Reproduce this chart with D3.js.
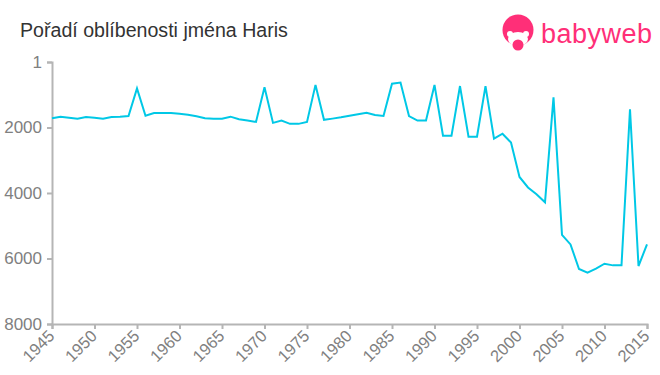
<!doctype html>
<html>
    <head>
        <meta charset="utf-8">
        <script src="https://d3js.org/d3.v7.min.js"></script>
        <style>
            body,
            html {
                margin: 0;
                padding: 0;
                overflow: hidden;
                background: #fff;
            }
            text {
                font-family: "Liberation Sans", Arial, sans-serif;
            }
        </style>
    </head>
    <body>
        <script>
            const years = d3.range(1945, 2016);
            const ranks = [
                1720, 1670, 1700, 1730, 1680, 1700, 1730, 1680, 1670, 1650,
                805, 1640, 1560, 1560, 1560, 1580, 1610, 1660, 1720, 1730,
                1730, 1670, 1750, 1790, 1830, 775, 1860, 1790, 1890, 1890,
                1830, 700, 1765, 1730, 1690, 1640, 1595, 1550, 1620, 1650,
                663, 630, 1650, 1790, 1790, 700, 2250, 2250, 735, 2280,
                2280, 735, 2340, 2190, 2460, 3510, 3830, 4040, 4285, 1080,
                5280, 5570, 6320, 6430, 6310, 6160, 6210, 6210, 1445, 6230,
                5570,
            ];
            const yTicks = [1, 2000, 4000, 6000, 8000];
            const xTicks = d3.range(1945, 2016, 5);

            const width = 660;
            const height = 375;
            const svg = d3
                .create("svg")
                .attr("width", width)
                .attr("height", height)
                .attr("viewBox", [0, 0, width, height]);

            const x = d3.scaleLinear().domain([1945, 2015]).range([52, 647]);
            const y = d3.scaleLinear().domain([1, 8000]).range([62, 324]);

            // title
            svg.append("text")
                .attr("x", 20)
                .attr("y", 37)
                .attr("fill", "#333")
                .attr("font-size", 19.6)
                .text("Pořadí oblíbenosti jména Haris");

            // logo
            const logo = svg.append("g").attr("fill", "#ff2f78");
            logo.append("circle").attr("cx", 518).attr("cy", 30).attr("r", 15.5);
            logo.append("ellipse")
                .attr("cx", 518).attr("cy", 39).attr("rx", 10).attr("ry", 7)
                .attr("fill", "#fff");
            logo.append("circle").attr("cx", 510).attr("cy", 34).attr("r", 3).attr("fill", "#fff");
            logo.append("circle").attr("cx", 526).attr("cy", 34).attr("r", 3).attr("fill", "#fff");
            logo.append("circle").attr("cx", 518).attr("cy", 45).attr("r", 5.5);
            logo.append("text")
                .attr("x", 541)
                .attr("y", 43)
                .attr("font-size", 27)
                .attr("textLength", 111)
                .text("babyweb");

            // y axis
            const yAxis = svg
                .append("g")
                .attr("transform", "translate(52,0)")
                .call(d3.axisLeft(y).tickValues(yTicks).tickSize(5).tickPadding(5).tickFormat(d3.format("d")));
            yAxis.select(".domain").attr("stroke", "#b5b5b5").attr("stroke-width", 2);
            yAxis.selectAll(".tick line").attr("stroke", "#b5b5b5").attr("stroke-width", 2);
            yAxis.selectAll(".tick text")
                .attr("fill", "#808080")
                .attr("font-size", 17)
                .attr("font-family", "Liberation Sans, Arial, sans-serif");

            // x axis
            const xAxis = svg
                .append("g")
                .attr("transform", "translate(0,324)")
                .call(d3.axisBottom(x).tickValues(xTicks).tickSize(5).tickFormat(d3.format("d")));
            xAxis.select(".domain").attr("stroke", "#b5b5b5").attr("stroke-width", 2);
            xAxis.selectAll(".tick line").attr("stroke", "#b5b5b5").attr("stroke-width", 2);
            xAxis.selectAll(".tick text")
                .attr("fill", "#808080")
                .attr("font-size", 16.5)
                .attr("font-family", "Liberation Sans, Arial, sans-serif")
                .attr("text-anchor", "end")
                .attr("dy", null)
                .attr("y", 0)
                .attr("transform", "translate(3,13) rotate(-45)");

            // line
            const line = d3
                .line()
                .x((d, i) => x(years[i]))
                .y((d) => y(d));
            svg.append("path")
                .datum(ranks)
                .attr("fill", "none")
                .attr("stroke", "#00c8e6")
                .attr("stroke-width", 2)
                .attr("stroke-linejoin", "miter")
                .attr("d", line);

            document.body.appendChild(svg.node());
        </script>
    </body>
</html>
